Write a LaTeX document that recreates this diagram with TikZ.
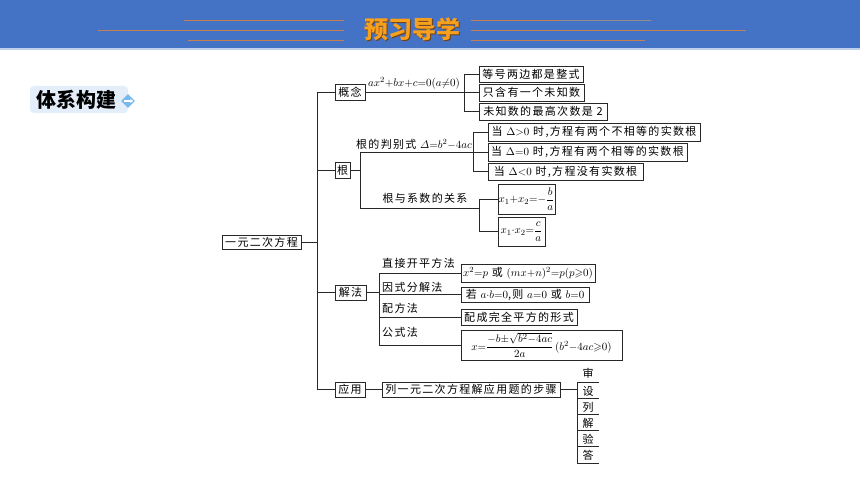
\documentclass[tikz,border=0pt]{standalone}
\usepackage{amsmath,amssymb}
\usepackage{fontspec}
\newfontfamily\cjk[LetterSpace=12]{Noto Sans CJK SC}
\newfontfamily\cjkt{Noto Sans CJK SC}
\usetikzlibrary{shapes.geometric,arrows.meta}
\definecolor{hdr}{RGB}{68,114,196}
\definecolor{hdrstrip}{RGB}{190,208,235}
\definecolor{hdrline}{RGB}{196,128,82}
\definecolor{hdrgray}{RGB}{150,140,140}
\definecolor{titleor}{RGB}{247,160,30}
\definecolor{titlesh}{RGB}{110,65,25}
\definecolor{linec}{RGB}{40,40,40}
\definecolor{tagbg}{RGB}{228,238,250}
\definecolor{iconc}{RGB}{120,185,235}
\begin{document}
\begin{tikzpicture}[x=1pt,y=-1pt,
  ln/.style={draw=linec, line width=0.85pt},
  bx/.style={draw=linec, line width=0.8pt, inner sep=0pt, font=\cjk\fontsize{11}{13}\selectfont, text=black},
  lb/.style={inner sep=0pt, font=\cjk\fontsize{11}{13}\selectfont, text=black},
  cell/.style={inner sep=0pt, minimum width=21, minimum height=16, font=\cjkt\fontsize{11}{13}\selectfont},
  hl/.style={draw=hdrline, line width=0.8pt},
]
\useasboundingbox (0,0) rectangle (860,484);
\fill[white] (0,0) rectangle (860,484);
% header
\fill[hdr] (0,0) rectangle (860,48);
\fill[hdrstrip] (0,48) rectangle (860,50);
\draw[hl] (184,20) -- (344,20);
\draw[hl] (98,30) -- (344,30);
\draw[hl] (188,40) -- (344,40);
\draw[hl] (471,20) -- (560,20);
\draw[draw=hdrgray, line width=0.8pt] (560,20) -- (651,20);
\draw[hl] (471,30) -- (746,30);
\draw[hl] (471,40) -- (645,40);
\node[inner sep=0pt, text=titlesh, font=\cjkt\bfseries\fontsize{24}{26}\selectfont] at (413.5,30.5) {预习导学};
\node[inner sep=0pt, text=titleor, font=\cjkt\bfseries\fontsize{24}{26}\selectfont] (title) at (412,29) {预习导学};
% tag
\fill[tagbg, rounded corners=4pt] (30,86) rectangle (128,113);
\node[inner sep=0pt, font=\cjkt\bfseries\fontsize{20}{22}\selectfont] (tag) at (76,100) {体系构建};
\node[diamond, fill=iconc, inner sep=0pt, minimum size=14] (icon) at (128,101) {};
\draw[white, line width=1.3pt, -{Stealth[length=3pt,width=4pt]}] (icon.west) ++(3,0) -- ([xshift=-2pt]icon.east);
% boxes
\node[bx, minimum width=79, minimum height=14] (root) at (261.5,242) {一元二次方程};
\node[bx, minimum width=30, minimum height=16] (gn) at (350,92) {概念};
\node[bx, minimum width=15, minimum height=16] (gen) at (342.5,170) {根};
\node[bx, minimum width=31, minimum height=15] (jf) at (350.5,292.5) {解法};
\node[bx, minimum width=30, minimum height=15] (yy) at (350,389.5) {应用};
\node[bx, minimum width=104, minimum height=16] (k1) at (531,74) {等号两边都是整式};
\node[bx, minimum width=105, minimum height=17] (k2) at (531.5,92.5) {只含有一个未知数};
\node[bx, minimum width=128, minimum height=17] (k3) at (543,111.5) {未知数的最高次数是 2};
\node[bx, minimum width=212, minimum height=18] (d1) at (594,132) {当 $\Delta{>}0$ 时,方程有两个不相等的实数根};
\node[bx, minimum width=199, minimum height=18] (d2) at (587.5,152) {当 $\Delta{=}0$ 时,方程有两个相等的实数根};
\node[bx, minimum width=155, minimum height=17] (d3) at (565.5,171.5) {当 $\Delta{<}0$ 时,方程没有实数根};
\node[bx, minimum width=57, minimum height=30, font=\fontsize{11}{13}\selectfont] (v1) at (526.5,199) {$x_1{+}x_2{=}{-}\dfrac{b}{a}$};
\node[bx, minimum width=47, minimum height=29, font=\fontsize{11}{13}\selectfont] (v2) at (521.5,231.5) {$x_1{\cdot}x_2{=}\dfrac{c}{a}$};
\node[bx, minimum width=134, minimum height=18] (s1) at (528,273) {$x^2{=}p$ 或 $(mx{+}n)^2{=}p(p{\geqslant}0)$};
\node[bx, minimum width=128, minimum height=15] (s2) at (525,294.5) {若 $a{\cdot}b{=}0$,则 $a{=}0$ 或 $b{=}0$};
\node[bx, minimum width=116, minimum height=16] (s3) at (519,317) {配成完全平方的形式};
\node[bx, minimum width=161, minimum height=30, font=\fontsize{10.95}{13}\selectfont] (s4) at (541.5,345) {$x{=}\dfrac{-b{\pm}\sqrt{b^2{-}4ac}}{2a}\,(b^2{-}4ac{\geqslant}0)$};
\node[bx, minimum width=178, minimum height=15] (steps) at (471,389.5) {列一元二次方程解应用题的步骤};
% labels
\node[lb] (eq) at (414,83) {$ax^2{+}bx{+}c{=}0(a{\neq}0)$};
\node[lb] (pb) at (414,144) {根的判别式 $\varDelta{=}b^2{-}4ac$};
\node[lb] (gx) at (425,198) {根与系数的关系};
\node[lb, anchor=west] (m1) at (382,263) {直接开平方法};
\node[lb, anchor=west] (m2) at (382,287) {因式分解法};
\node[lb, anchor=west] (m3) at (382,308) {配方法};
\node[lb, anchor=west] (m4) at (382,332) {公式法};
% step cells
\node[cell] (c1) at (588,373) {审};
\node[cell] (c2) at (588,391) {设};
\node[cell] (c3) at (588,407) {列};
\node[cell] (c4) at (588,423) {解};
\node[cell] (c5) at (588,439) {验};
\node[cell] (c6) at (588,455) {答};
% coordinates of spines
\coordinate (sp) at (317,0);
\coordinate (kb) at (464,0);
\coordinate (gv) at (360,0);
\coordinate (db) at (473,0);
\coordinate (vb) at (479,0);
\coordinate (vm) at (479,208);
\coordinate (jb) at (379,0);
% connectors
\draw[ln] (gn.west) -- (gn.west -| sp) -- (yy.west -| sp) -- (yy.west);
\draw[ln] (gen.west) -- (gen.west -| sp);
\draw[ln] (jf.west) -- (jf.west -| sp);
\draw[ln] (root.east) -- (root.east -| sp);
\draw[ln] (k1.west) -- (k1.west -| kb) -- (k3.west -| kb) -- (k3.west);
\draw[ln] (gn.east) -- (gn.east -| kb);
\draw[ln] (k2.west) -- (k2.west -| kb);
\draw[ln] (gen.east) -- (gen.east -| gv);
\draw[ln] (d2.west) -- (d2.west -| gv) -- (gv |- vm) -- (vm);
\draw[ln] (d1.west) -- (d1.west -| db) -- (d3.west -| db) -- (d3.west);
\draw[ln] (v1.west) -- (v1.west -| vb) -- (v2.west -| vb) -- (v2.west);
\draw[ln] (jf.east) -- (jf.east -| jb);
\draw[ln] (s1.west) -- (s1.west -| jb) -- (s4.west -| jb) -- (s4.west);
\draw[ln] (s2.west) -- (s2.west -| jb);
\draw[ln] (s3.west) -- (s3.west -| jb);
\draw[ln] (yy.east) -- (steps.west);
\draw[ln] (steps.east) -- (steps.east -| c2.west);
\draw[ln] (c2.north west) -- (c6.south west);
\foreach \c in {c2,c3,c4,c5,c6} \draw[ln] (\c.north west) -- (\c.north east);
\draw[ln] (c6.south west) -- (c6.south east);
\end{tikzpicture}
\end{document}
